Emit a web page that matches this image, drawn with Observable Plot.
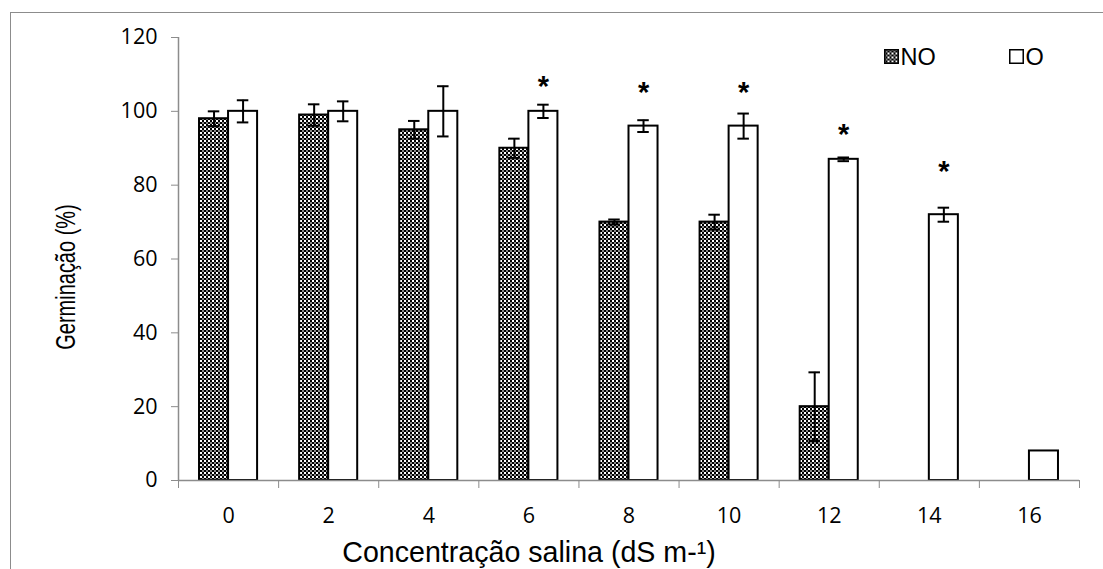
<!DOCTYPE html>
<html>
<head>
<meta charset="utf-8">
<script src="https://cdn.jsdelivr.net/npm/d3@7"></script>
<script src="https://cdn.jsdelivr.net/npm/@observablehq/plot@0.6"></script>
<style>
  html, body { margin: 0; padding: 0; background: #fff; }
  #wrap { position: relative; width: 1103px; height: 569px; overflow: hidden; }
  #border { position: absolute; left: 10px; top: 12px; width: 1100px; height: 570px; border: 1px solid #8c8c8c; box-sizing: border-box; }
  #chart { position: absolute; left: 0; top: 0; }
</style>
</head>
<body>
<div id="wrap"><div id="border"></div><div id="chart"></div></div>
<script>
// Salt concentration (dS m-1)
const conc = [0, 2, 4, 6, 8, 10, 12, 14, 16];
// Germination (%) for non-osmoprimed (NO) and osmoprimed (O) seeds
const valNO = [98, 99, 95, 90, 70, 70, 20, 0, 0];
const errNO = [2.0, 2.9, 2.4, 2.6, 0.7, 2.0, 9.3, 0, 0];
const valO  = [100, 100, 100, 100, 96, 96, 87, 72, 8];
const errO  = [3.0, 2.7, 6.8, 1.8, 1.6, 3.4, 0.5, 1.9, 0];
// Significance markers (*) above O bars
const starConc = [6, 8, 10, 12, 14];
const starY    = [109, 107.6, 107.6, 96.2, 86];
const yTicks = [0, 20, 40, 60, 80, 100, 120];
const seriesNames = ["NO", "O"];
const yTitle = "Germinação (%)";
const xTitle = "Concentração salina (dS m-¹)";

const barW = 0.58;   // bar width in x units (one category = 2 units)
const capW = 0.115;  // half width of error-bar caps

const rows = [];
conc.forEach((c, i) => {
  rows.push({series: "NO", c, v: valNO[i], e: errNO[i], x1: c - barW, x2: c});
  rows.push({series: "O",  c, v: valO[i],  e: errO[i],  x1: c, x2: c + barW});
});
const bars = rows.filter(d => d.v > 0);
const errs = bars.filter(d => d.e > 0).map(d => ({...d, xc: (d.x1 + d.x2) / 2}));
const stars = starConc.map((c, i) => ({x: c + barW / 2, y: starY[i]}));
const boundaries = d3.range(-1, 18, 2);

const numFont = "'Open Sans', sans-serif";
const txtFont = "'Liberation Sans', Arial, sans-serif";
const fillOf = s => s === "NO" ? "url(#checker)" : "#ffffff";

const plot = Plot.plot({
  width: 1103,
  height: 569,
  marginLeft: 178,
  marginRight: 24,
  marginTop: 37,
  marginBottom: 89,
  style: {background: "transparent", overflow: "visible"},
  x: {type: "linear", domain: [-1, 17], axis: null},
  y: {domain: [0, 120], axis: null},
  marks: [
    // bars
    Plot.rectY(bars, {
      x1: "x1", x2: "x2", y1: 0, y2: "v",
      fill: d => fillOf(d.series),
      stroke: "#000", strokeWidth: 2
    }),
    // axis lines
    Plot.ruleX([-1], {y1: 0, y2: 120, stroke: "#8c8c8c", strokeWidth: 1.5}),
    Plot.ruleY([0], {x1: -1, x2: 17, stroke: "#8c8c8c", strokeWidth: 1.5}),
    // y axis
    Plot.axisY({
      ticks: yTicks, tickSize: 7, tickPadding: 14, stroke: "#8c8c8c",
      fontSize: 21.5, fontFamily: numFont, fill: "#000", label: null
    }),
    // x category boundary ticks
    Plot.axisX({
      ticks: boundaries, tickSize: 8, tickFormat: () => "", stroke: "#8c8c8c", label: null
    }),
    // x category labels
    Plot.axisX({
      ticks: conc, tickSize: 0, tickPadding: 27, tickFormat: d => String(d),
      fontSize: 21.5, fontFamily: numFont, fill: "#000", label: null
    }),
    // error bars
    Plot.ruleX(errs, {x: "xc", y1: d => d.v - d.e, y2: d => d.v + d.e, stroke: "#000", strokeWidth: 2}),
    Plot.ruleY(errs, {y: d => d.v + d.e, x1: d => d.xc - capW, x2: d => d.xc + capW, stroke: "#000", strokeWidth: 2}),
    Plot.ruleY(errs, {y: d => d.v - d.e, x1: d => d.xc - capW, x2: d => d.xc + capW, stroke: "#000", strokeWidth: 2}),
    // significance markers
    Plot.text(stars, {x: "x", y: "y", text: () => "*", fontSize: 29, fontWeight: "bold",
      fontFamily: txtFont, fill: "#000", dy: 9}),
    // x axis title
    Plot.text([xTitle], {frameAnchor: "bottom", lineAnchor: "middle", dx: -100, dy: 72,
      fontSize: 28.6, fontFamily: txtFont, fill: "#000"}),
    // legend: NO
    Plot.dot([seriesNames[0]], {frameAnchor: "top-right", dx: -188, dy: 19,
      symbol: "square", r: 7.6, fill: fillOf(seriesNames[0]), stroke: "#000", strokeWidth: 1.5}),
    Plot.text([seriesNames[0]], {frameAnchor: "top-right", lineAnchor: "middle", dx: -179, dy: 20,
      textAnchor: "start", fontSize: 23.5, fontFamily: txtFont, fill: "#000"}),
    // legend: O
    Plot.dot([seriesNames[1]], {frameAnchor: "top-right", dx: -63, dy: 19,
      symbol: "square", r: 7.6, fill: fillOf(seriesNames[1]), stroke: "#000", strokeWidth: 1.5}),
    Plot.text([seriesNames[1]], {frameAnchor: "top-right", lineAnchor: "middle", dx: -54, dy: 20,
      textAnchor: "start", fontSize: 23.5, fontFamily: txtFont, fill: "#000"})
  ]
});

const svg = d3.select(plot);
// rotated y-axis title (glyphs as tall as the x title, condensed along its length as in the source)
svg.append("text")
  .attr("transform", "translate(65,277) rotate(-90) scale(0.74,1)")
  .attr("text-anchor", "middle")
  .attr("dominant-baseline", "central")
  .attr("font-family", txtFont)
  .attr("font-size", 27)
  .attr("fill", "#000")
  .text(yTitle);

// checkerboard pattern for NO bars
const defs = svg.insert("defs", ":first-child");
const pat = defs.append("pattern").attr("id", "checker").attr("patternUnits", "userSpaceOnUse")
  .attr("width", 4).attr("height", 4);
pat.append("rect").attr("width", 4).attr("height", 4).attr("fill", "#000000");
pat.append("rect").attr("x", 0).attr("y", 0).attr("width", 2).attr("height", 2).attr("fill", "#ffffff");
pat.append("rect").attr("x", 2).attr("y", 2).attr("width", 2).attr("height", 2).attr("fill", "#8a8a8a");

document.getElementById("chart").appendChild(plot);
</script>
</body>
</html>
